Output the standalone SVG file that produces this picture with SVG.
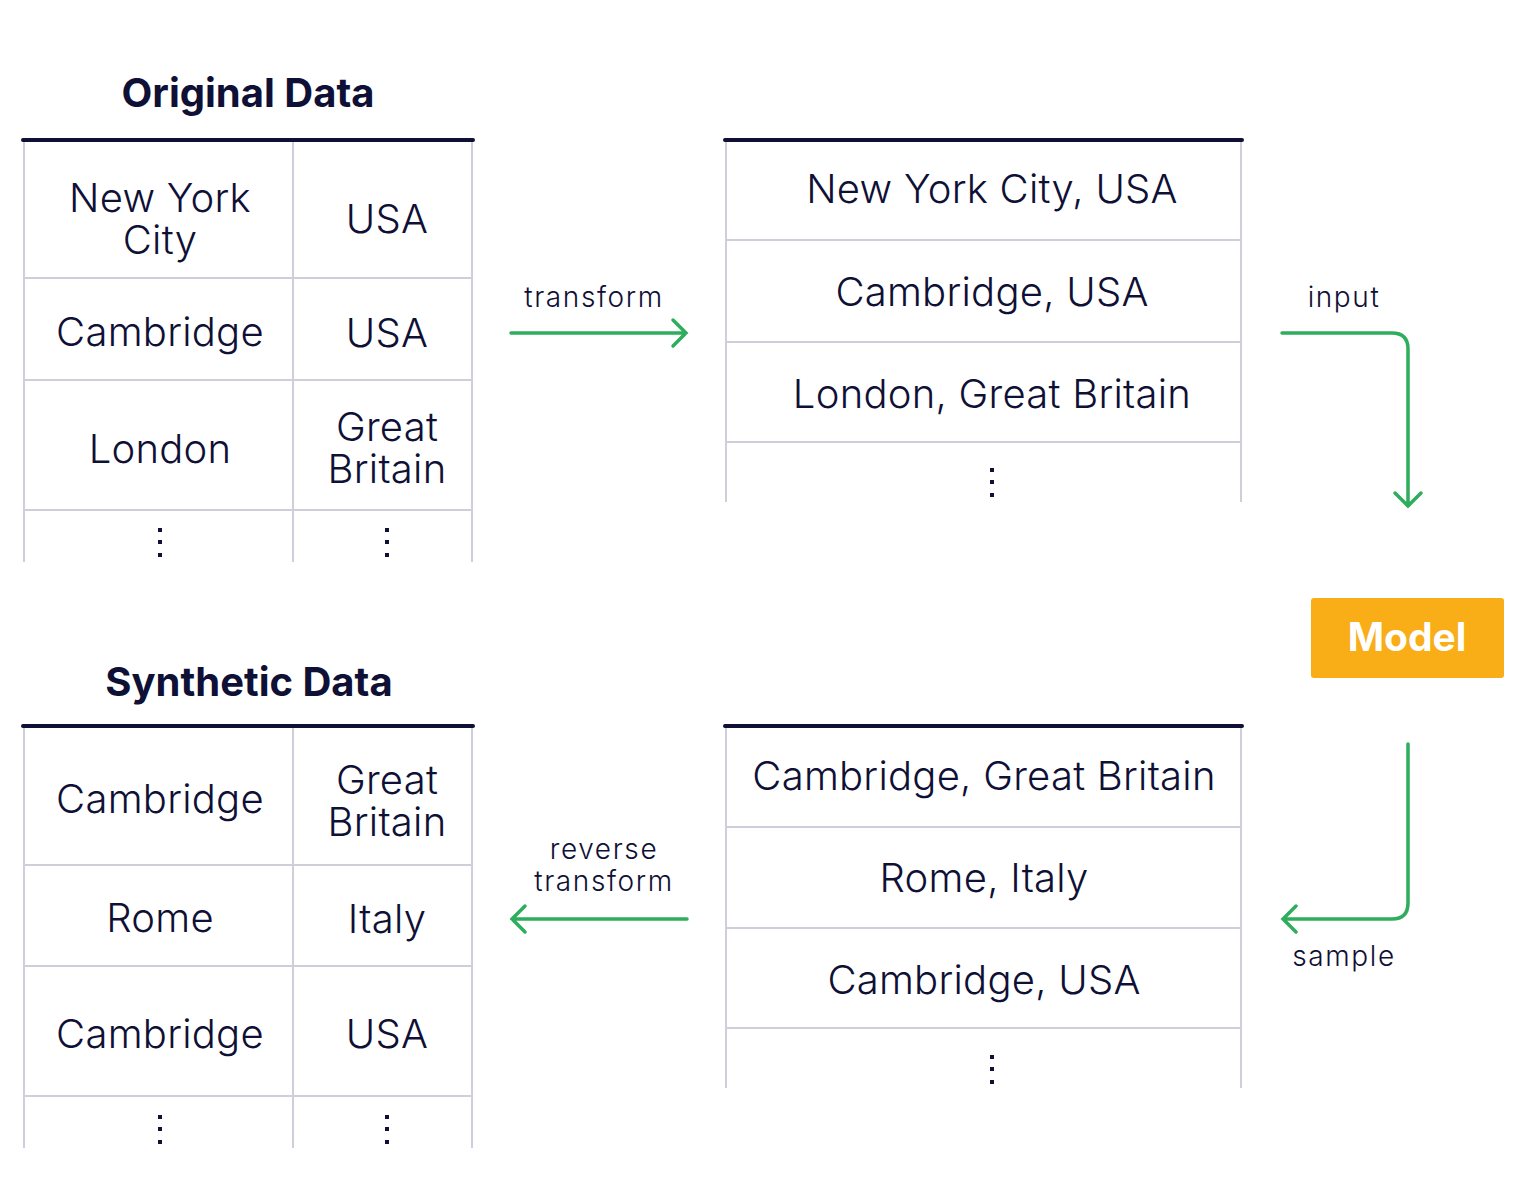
<svg xmlns="http://www.w3.org/2000/svg" width="1524" height="1200" viewBox="0 0 1524 1200">
<style>
.t{font-family:Inter,"Liberation Sans",sans-serif;font-size:40px;font-weight:300;fill:#0f1035;text-anchor:middle;letter-spacing:0.25px}
.h{font-family:Inter,"Liberation Sans",sans-serif;font-size:40px;font-weight:700;fill:#0f1035;text-anchor:middle}
.l{font-family:Inter,"Liberation Sans",sans-serif;font-size:28px;font-weight:300;fill:#0f1035;text-anchor:middle;letter-spacing:1.6px}
.top{stroke:#0f1035;stroke-width:4;stroke-linecap:round}
.g{stroke:#cfcfdc;stroke-width:2;fill:none}
.dot{fill:#0f1035}
.c{stroke:#2eae5c;stroke-width:3.5;fill:none;stroke-linecap:round;stroke-linejoin:miter}
</style>
<rect width="1524" height="1200" fill="#fff"/>

<g id="original-data">
<text class="h" x="248" y="107">Original Data</text>
<path class="g" d="M24 140V562M293 140V562M472 140V562M24 278H472M24 380H472M24 510H472"/>
<line class="top" x1="23" y1="140" x2="473" y2="140"/>
<text class="t" x="160" y="212">New York<tspan x="160" dy="42">City</tspan></text>
<text class="t" x="387" y="233">USA</text>
<text class="t" x="160" y="346">Cambridge</text>
<text class="t" x="387" y="347">USA</text>
<text class="t" x="160" y="463">London</text>
<text class="t" x="387" y="441">Great<tspan x="387" dy="42">Britain</tspan></text>
<g class="dot"><rect x="158" y="528" width="4" height="4"/><rect x="158" y="540" width="4" height="4"/><rect x="158" y="553" width="4" height="4"/><rect x="385" y="528" width="4" height="4"/><rect x="385" y="540" width="4" height="4"/><rect x="385" y="553" width="4" height="4"/></g>
</g>

<g id="transformed-data">
<path class="g" d="M726 140V502M1241 140V502M726 240H1241M726 342H1241M726 442H1241"/>
<line class="top" x1="725" y1="140" x2="1242" y2="140"/>
<text class="t" x="992" y="203">New York City, USA</text>
<text class="t" x="992" y="306">Cambridge, USA</text>
<text class="t" x="992" y="408">London, Great Britain</text>
<g class="dot"><rect x="990" y="468" width="4" height="4"/><rect x="990" y="480" width="4" height="4"/><rect x="990" y="493" width="4" height="4"/></g>
</g>

<g id="model">
<rect x="1311" y="598" width="193" height="80" rx="3" fill="#f9ad17"/>
<text x="1407" y="651" font-family="Inter,'Liberation Sans',sans-serif" font-size="39" font-weight="700" fill="#fff" text-anchor="middle">Model</text>
</g>

<g id="sampled-data">
<path class="g" d="M726 726V1088M1241 726V1088M726 827H1241M726 928H1241M726 1028H1241"/>
<line class="top" x1="725" y1="726" x2="1242" y2="726"/>
<text class="t" x="984" y="790">Cambridge, Great Britain</text>
<text class="t" x="984" y="892">Rome, Italy</text>
<text class="t" x="984" y="994">Cambridge, USA</text>
<g class="dot"><rect x="990" y="1055" width="4" height="4"/><rect x="990" y="1067" width="4" height="4"/><rect x="990" y="1080" width="4" height="4"/></g>
</g>

<g id="synthetic-data">
<text class="h" x="249" y="696">Synthetic Data</text>
<path class="g" d="M24 726V1148M293 726V1148M472 726V1148M24 865H472M24 966H472M24 1096H472"/>
<line class="top" x1="23" y1="726" x2="473" y2="726"/>
<text class="t" x="160" y="813">Cambridge</text>
<text class="t" x="387" y="794">Great<tspan x="387" dy="42">Britain</tspan></text>
<text class="t" x="160" y="932">Rome</text>
<text class="t" x="387" y="933">Italy</text>
<text class="t" x="160" y="1048">Cambridge</text>
<text class="t" x="387" y="1048">USA</text>
<g class="dot"><rect x="158" y="1115" width="4" height="4"/><rect x="158" y="1127" width="4" height="4"/><rect x="158" y="1140" width="4" height="4"/><rect x="385" y="1115" width="4" height="4"/><rect x="385" y="1127" width="4" height="4"/><rect x="385" y="1140" width="4" height="4"/></g>
</g>

<g id="connectors">
<path class="c" d="M511 333H686M673 320L686 333L673 346"/>
<text class="l" x="594" y="307">transform</text>
<path class="c" d="M1282 333H1392Q1408 333 1408 349V506M1395 493L1408 506L1421 493"/>
<text class="l" x="1344" y="307">input</text>
<path class="c" d="M1408 744V903Q1408 919 1392 919H1283M1296 906L1283 919L1296 932"/>
<text class="l" x="1344" y="966">sample</text>
<path class="c" d="M687 919H512M525 906L512 919L525 932"/>
<text class="l" x="604" y="859">reverse<tspan x="604" dy="32">transform</tspan></text>
</g>
</svg>
